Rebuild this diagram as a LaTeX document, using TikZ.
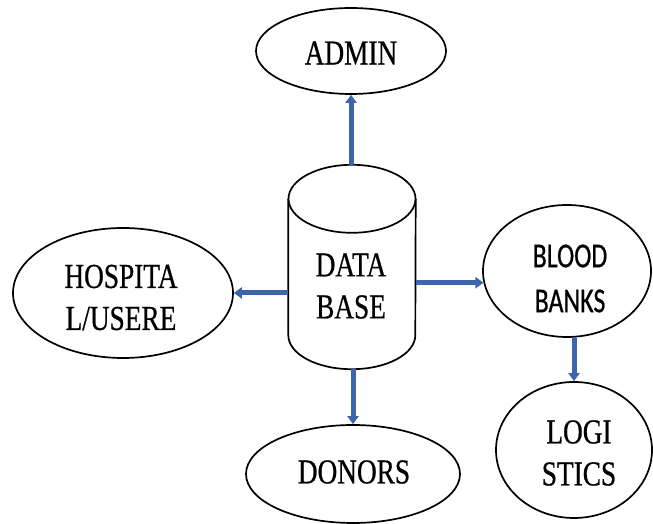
\documentclass[tikz,border=0pt]{standalone}
\usepackage{fontspec}
\usetikzlibrary{shapes.geometric,arrows.meta}
\newfontfamily\tnrfont{Liberation Serif}[FakeStretch=0.78, FakeBold=0.6]
\newfontfamily\calfont{Carlito}[FakeStretch=0.74, FakeBold=0.6]
\definecolor{arrblue}{RGB}{62,100,172}
\tikzset{
  shapeline/.style={draw=black, line width=1.7pt},
  oval/.style={shapeline, ellipse, inner sep=0pt},
  serif/.style={font=\tnrfont\fontsize{35}{42}\selectfont, align=center, inner sep=0pt},
  sans/.style={font=\calfont\fontsize{35}{45}\selectfont, align=center, inner sep=0pt},
  arr/.style={draw=arrblue, line width=5pt, -{Triangle[width=11pt,length=8pt]}}
}
\begin{document}
\begin{tikzpicture}[x=1pt,y=1pt]
\useasboundingbox (0,0) rectangle (653,524);
% shapes
\node[oval, minimum width=190pt, minimum height=86pt] (admin) at (351,473) {};
\node[oval, minimum width=220pt, minimum height=130pt] (hosp) at (123,231) {};
\node[oval, minimum width=168pt, minimum height=132pt] (blood) at (567,253) {};
\node[oval, minimum width=156pt, minimum height=136pt] (logi) at (574,74) {};
\node[oval, minimum width=214pt, minimum height=98pt] (donors) at (353,50) {};
% database cylinder
\node[minimum width=127pt, minimum height=204pt, inner sep=0pt] (db) at (352,257) {};
\draw[shapeline] (db.north) ++(0,-34) ellipse[x radius=63.5, y radius=34];
\draw[shapeline] ([yshift=-34pt]db.north west) -- ([yshift=34pt]db.south west)
  arc[start angle=180, end angle=360, x radius=63.5, y radius=34]
  -- ([yshift=-34pt]db.north east);
% texts
\node[serif] (tadmin) at (351,471) {ADMIN};
\node[serif] (thosp) at (121,226.5) {HOSPITA\\L/USERE};
\node[serif] (tdb) at (351,238) {DATA\\BASE};
\node[sans] (tblood) at (570,245.5) {BLOOD\\BANKS};
\node[serif] (tlogi) at (579,71) {LOGI\\STICS};
\node[serif] (tdonors) at (354,52) {DONORS};
% connectors
\draw[arr] (admin.south |- db.north) -- (admin.south);
\draw[arr] (db.west |- hosp.east) -- (hosp.east);
\draw[arr] (db.east |- blood.188) -- (blood.188);
\draw[arr] (donors.north |- db.south) -- (donors.north);
\draw[arr] (logi.north |- blood.south) -- (logi.north);
\end{tikzpicture}
\end{document}
